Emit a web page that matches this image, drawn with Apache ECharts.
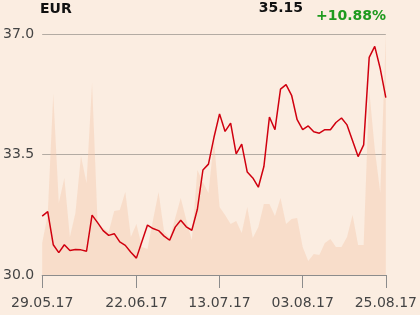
<!DOCTYPE html>
<html>
<head>
<meta charset="utf-8">
<script src="https://cdn.jsdelivr.net/npm/echarts@6/dist/echarts.min.js"></script>
<style>
html,body{margin:0;padding:0;background:#FBEDE1;}
#c{width:420px;height:315px;}
</style>
</head>
<body>
<div id="c"></div>
<script>
const dates = [
 '29.05.17','30.05.17','31.05.17','01.06.17','02.06.17','06.06.17','07.06.17','08.06.17','09.06.17',
 '12.06.17','13.06.17','14.06.17','15.06.17','16.06.17','19.06.17','20.06.17','21.06.17','22.06.17',
 '23.06.17','26.06.17','27.06.17','28.06.17','29.06.17','30.06.17','03.07.17','04.07.17','05.07.17',
 '06.07.17','07.07.17','10.07.17','11.07.17','12.07.17','13.07.17',
 '14.07.17','17.07.17','18.07.17','19.07.17','20.07.17','21.07.17','24.07.17','25.07.17','26.07.17',
 '27.07.17','28.07.17','31.07.17','01.08.17','02.08.17','03.08.17',
 '04.08.17','07.08.17','08.08.17','09.08.17','10.08.17','11.08.17','14.08.17','16.08.17','17.08.17',
 '18.08.17','21.08.17','22.08.17','23.08.17','24.08.17','25.08.17'
];
const price = [
 31.71,31.84,30.88,30.65,30.88,30.71,30.74,30.73,30.69,31.74,31.52,31.29,31.15,31.20,30.96,30.86,30.66,30.49,
 30.97,31.45,31.35,31.29,31.13,31.01,31.39,31.59,31.40,31.30,31.91,33.05,33.22,34.00,34.68,
 34.17,34.41,33.52,33.80,32.99,32.82,32.55,33.15,34.59,34.22,35.40,35.53,35.22,34.51,34.22,
 34.33,34.16,34.12,34.22,34.22,34.43,34.56,34.36,33.90,33.44,33.78,36.32,36.64,35.99,35.15
];
const volume = [
 32,60,181,72,97,38,62,119,92,192,52,47,43,64,65,83,38,51,
 28,26,55,83,43,37,57,77,55,35,105,93,82,135,68,
 60,51,54,42,68,37,48,71,71,59,77,51,56,57,28,
 14,21,20,32,36,28,28,38,60,30,30,185,126,82,241
];
const xTickLabels = ['29.05.17','22.06.17','13.07.17','03.08.17','25.08.17'];
const yMin = 30.0, yMax = 37.0, yStep = 3.5;
const headerName = 'EUR', headerLast = '35.15', headerChange = '+10.88%';

const chart = echarts.init(document.getElementById('c'), null, {renderer:'canvas'});
const showTick = (i, v) => xTickLabels.indexOf(v) >= 0;
chart.setOption({
  backgroundColor: '#FBEDE1',
  animation: false,
  grid: {left: 41, right: 34, top: 34, bottom: 40},
  graphic: [
    {type:'text', left: 40, top: 2, style:{text: headerName, font:'bold 14px "DejaVu Sans"', fill:'#111'}},
    {type:'text', right: 117, top: 1, style:{text: headerLast, font:'bold 14px "DejaVu Sans"', fill:'#111'}},
    {type:'text', right: 34, top: 9, style:{text: headerChange, font:'bold 14px "DejaVu Sans"', fill:'#1E9A1E'}}
  ],
  xAxis: {
    type: 'category', data: dates, boundaryGap: false,
    axisLine: {lineStyle: {color: '#8C8C8C', width: 1}},
    axisTick: {show: true, interval: showTick, length: 13, lineStyle: {color: '#8C8C8C'}},
    axisLabel: {interval: showTick, margin: 21, fontSize: 14, fontFamily: 'DejaVu Sans', color: '#444', showMaxLabel: true},
    splitLine: {show: false}
  },
  yAxis: [{
    type: 'value', min: yMin, max: yMax, interval: yStep,
    axisLine: {show: false}, axisTick: {show: false},
    axisLabel: {fontSize: 14, fontFamily: 'DejaVu Sans', color: '#444', margin: 8, formatter: v => v.toFixed(1)},
    splitLine: {lineStyle: {color: '#B3ABA3', width: 1}}
  }, {
    type: 'value', min: 0, max: 'dataMax', show: false, splitLine: {show: false}
  }],
  series: [{
    type: 'line', yAxisIndex: 1, data: volume, symbol: 'none', z: 1,
    lineStyle: {width: 0}, areaStyle: {color: 'rgba(244,197,168,0.4)', opacity: 1}
  }, {
    type: 'line', yAxisIndex: 0, data: price, symbol: 'none', z: 3,
    lineStyle: {color: '#D0000F', width: 1.5}
  }]
});
</script>
</body>
</html>
